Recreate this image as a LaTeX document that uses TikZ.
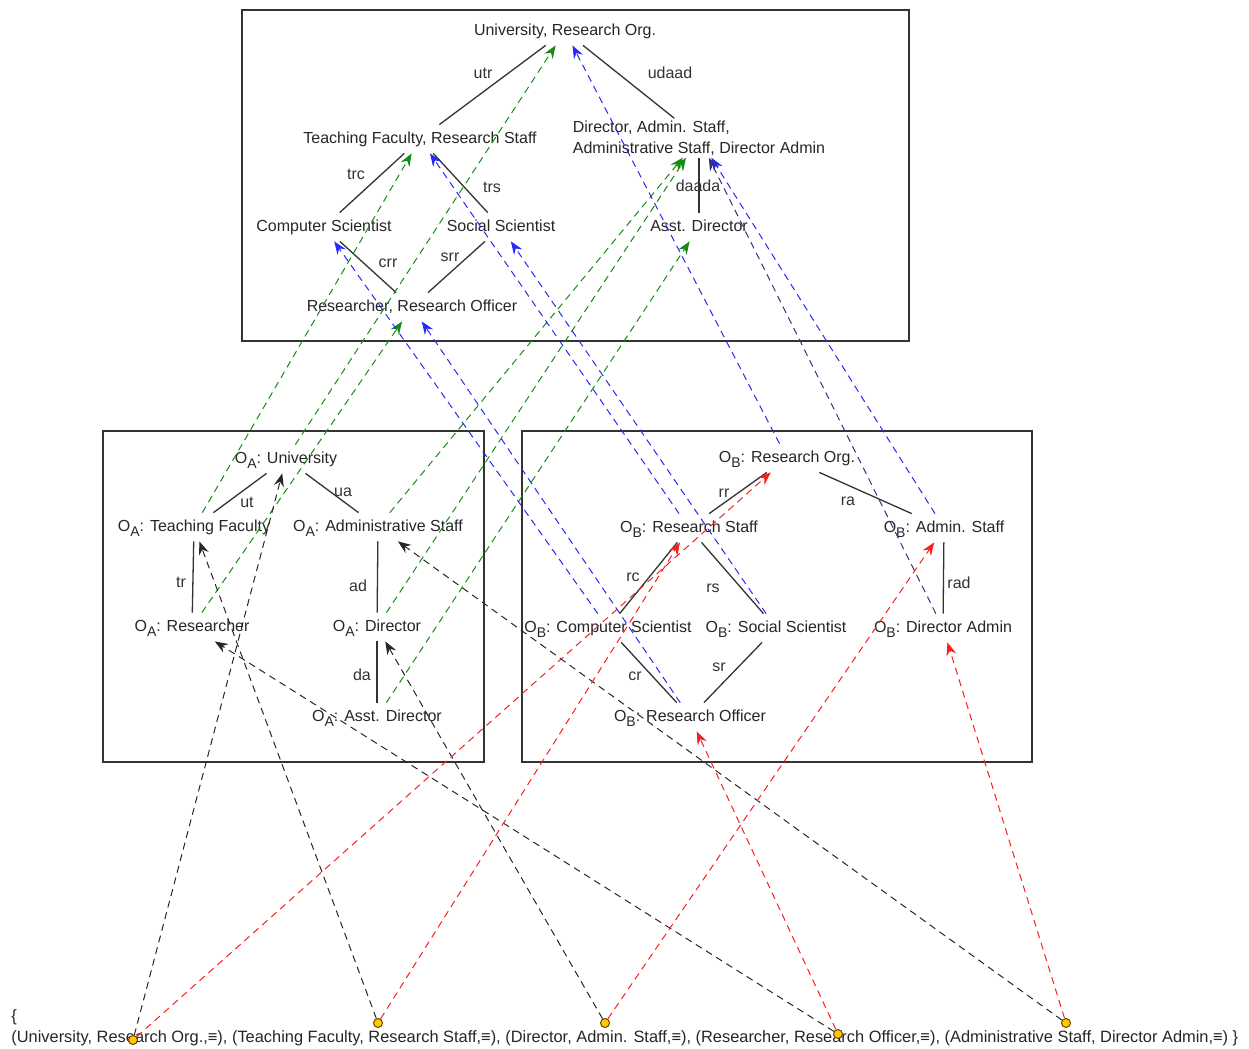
\documentclass[tikz,border=0pt]{standalone}
\usepackage{fontspec}
\setmainfont{Liberation Sans}
\usetikzlibrary{arrows.meta}
\definecolor{mapgreen}{RGB}{20,140,20}
\definecolor{mapblue}{RGB}{40,40,250}
\definecolor{mapnavy}{RGB}{50,50,130}
\definecolor{mapred}{RGB}{250,30,30}
\definecolor{dotfill}{RGB}{255,200,0}
\definecolor{dotline}{RGB}{110,70,0}
\newcommand{\ont}[1]{O\raisebox{-.6ex}{\scriptsize #1}}
\tikzset{
  cls/.style={inner xsep=1pt, inner ysep=0pt, minimum height=14pt,
    text height=5.8pt, text depth=1.6pt, text=black!85},
  twoline/.style={inner sep=1pt, align=left, text=black!85},
  lbl/.style={inner sep=0pt, text=black!80},
  grp/.style={draw=black!80, line width=0.7pt},
  rel/.style={draw=black!80, line width=0.65pt},
  pt/.style={circle, draw=dotline, fill=dotfill, line width=0.5pt,
    minimum size=4.5pt, inner sep=0pt},
  map/.style={line width=0.5pt, dash pattern=on 3.5pt off 2.5pt,
    -{Stealth[length=6.5pt, width=5pt, inset=2.2pt]}}
}
\begin{document}
\begin{tikzpicture}[x=0.5pt, y=-0.5pt, font=\fontsize{8}{10.5}\selectfont]
  \useasboundingbox (0,0) rectangle (1249,1049);
  \draw[grp] (242,10) rectangle (909,341);
  \draw[grp] (103,431) rectangle (484,762);
  \draw[grp] (522,431) rectangle (1032,762);
  \draw[every node/.style=cls]
    (565,31) node (t0){University, Research Org.}
    (420,139) node (t1){Teaching Faculty, Research Staff}
    (324,227) node (t3){Computer Scientist}
    (501,227) node (t4){Social Scientist}
    (699,227) node (t5){Asst. Director}
    (412,307) node (t6){Researcher, Research Officer};
  \node[twoline] (t2) at (699,138) {Director, Admin. Staff,\\Administrative Staff, Director Admin};
  \draw[every node/.style=cls]
    (286,459) node (a0){\ont{A}: University}
    (194,527) node (a1){\ont{A}: Teaching Faculty}
    (378,527) node (a2){\ont{A}: Administrative Staff}
    (192,627) node (a3){\ont{A}: Researcher}
    (377,627) node (a4){\ont{A}: Director}
    (377,717) node (a5){\ont{A}: Asst. Director};
  \draw[every node/.style=cls]
    (787,458) node (b0){\ont{B}: Research Org.}
    (689,528) node (b1){\ont{B}: Research Staff}
    (944,528) node (b2){\ont{B}: Admin. Staff}
    (608,628) node (b3){\ont{B}: Computer Scientist}
    (776,628) node (b4){\ont{B}: Social Scientist}
    (943,628) node (b5){\ont{B}: Director Admin}
    (690,717) node (b6){\ont{B}: Research Officer};
  \draw[every node/.style=lbl]
    (483,73) node (utr){utr}
    (670,73) node (udaad){udaad}
    (356,174) node (trc){trc}
    (492,187) node (trs){trs}
    (698,186) node (daada){daada}
    (388,263) node (crr){crr}
    (450,257) node (srr){srr}
    (247,502) node (ut){ut}
    (343,492) node (ua){ua}
    (181,582) node (tr){tr}
    (358,586) node (ad){ad}
    (362,675) node (da){da}
    (724,493) node (rr){rr}
    (848,501) node (ra){ra}
    (633,577) node (rc){rc}
    (713,588) node (rs){rs}
    (959,583) node (rad){rad}
    (635,676) node (cr){cr}
    (719,667) node (sr){sr};
  \node[anchor=west, align=left, inner sep=0pt, text=black!85,
    font=\fontsize{8.2}{10.5}\selectfont] (set) at (11,1028)
    {\{\\(University, Research Org.,≡), (Teaching Faculty, Research Staff,≡), (Director, Admin. Staff,≡), (Researcher, Research Officer,≡), (Administrative Staff, Director Admin,≡) \}};
  \begin{scope}[rel]
    \draw (t1) to (t0);
    \draw (t0) to (t2);
    \draw (t3) to (t1);
    \draw (t1) to (t4);
    \draw (t2) to (t5);
    \draw (t3) to (t6);
    \draw (t4) to (t6);
    \draw (a0) to (a1);
    \draw (a0) to (a2);
    \draw (a1) to (a3);
    \draw (a2) to (a4);
    \draw (a4) to (a5);
    \draw (b0) to (b1);
    \draw (b0) to (b2);
    \draw (b1) to (b3);
    \draw (b1) to (b4);
    \draw (b2) to (b5);
    \draw (b3) to (b6);
    \draw (b4) to (b6);
  \end{scope}
  \begin{scope}[map, draw=mapgreen]
    \draw (a0) to (t0);
    \draw (a1) to (t1);
    \draw (a2) to (t2);
    \draw (a3) to (t6);
    \draw (a4) to (t2);
    \draw (a5) to (t5);
  \end{scope}
  \begin{scope}[map, draw=mapblue]
    \draw (b0) to (t0);
    \draw (b1) to (t1);
    \draw (b2) to (t2);
    \draw (b3) to (t3);
    \draw (b4) to (t4);
    \draw[draw=mapnavy] (b5) to (t2);
    \draw (b6) to (t6);
  \end{scope}
  \draw
    (133,1040) node[pt] (c1){}
    (378,1023) node[pt] (c2){}
    (605,1023) node[pt] (c3){}
    (838,1034) node[pt] (c4){}
    (1066,1023) node[pt] (c5){};
  \begin{scope}[map, draw=black!85]
    \draw (c1) to (a0);
    \draw (c2) to (a1);
    \draw (c3) to (a4);
    \draw (c4) to (a3);
    \draw (c5) to (a2);
  \end{scope}
  \begin{scope}[map, draw=mapred]
    \draw (c1) to (b0);
    \draw (c2) to (b1);
    \draw (c3) to (b2);
    \draw (c4) to (b6);
    \draw (c5) to (b5);
  \end{scope}
\end{tikzpicture}
\end{document}
